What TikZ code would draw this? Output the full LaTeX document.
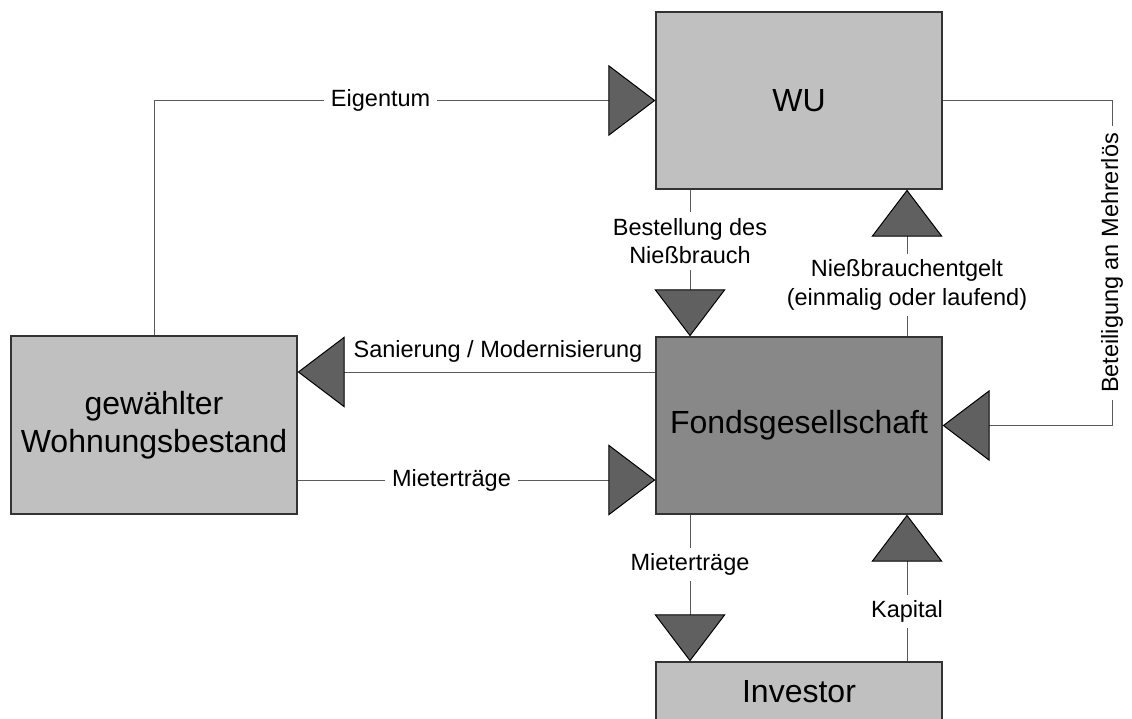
\documentclass[tikz,border=0pt]{standalone}
\usepackage{fontspec}
\setmainfont{Liberation Sans}
\usetikzlibrary{arrows.meta}
\definecolor{boxlight}{HTML}{C0C0C0}
\definecolor{boxdark}{HTML}{888888}
\definecolor{tri}{HTML}{606060}
\definecolor{ln}{HTML}{5A5A5A}
\begin{document}
\begin{tikzpicture}[x=1pt,y=-1pt,
  box/.style={draw=black!80, line width=1.2pt, minimum width=286pt, inner sep=0pt,
    align=center, font=\fontsize{32}{38}\selectfont},
  flow/.style={draw=ln, line width=1pt,
    -{Triangle[length=47pt,width=71pt,fill=tri,color=black]}},
  lbl/.style={fill=white, inner xsep=7pt, inner ysep=6pt, align=center,
    font=\fontsize{23.5}{28.5}\selectfont, text=black}]
\useasboundingbox (0,0) rectangle (1132,718);
\clip (0,0) rectangle (1132,718);
% boxes
\node[box, fill=boxlight, minimum height=177pt] (WU) at (799,100.5) {WU};
\node[box, fill=boxdark, minimum height=177pt] (F) at (799,425.5) {Fondsgesellschaft};
\node[box, fill=boxlight, minimum height=178pt] (L) at (154,425) {gewählter\\Wohnungsbestand};
\node[box, fill=boxlight, minimum height=60pt] (I) at (799,692) {Investor};
% helper coordinates
\coordinate (san) at (0,372);
\coordinate (mie) at (0,480);
\coordinate (bx) at (1112,0);
% connectors
\draw[flow] (L.north) |- node[lbl,pos=0.726]{Eigentum} (WU.west);
\draw[flow] ([xshift=-109pt]WU.south) -- node[lbl,pos=.35]{Bestellung des\\Nießbrauch} ([xshift=-109pt]F.north);
\draw[flow] ([xshift=108pt]F.north) -- node[lbl,pos=.35]{Nießbrauchentgelt\\(einmalig oder laufend)} ([xshift=108pt]WU.south);
\draw[flow] (WU.east) -- (WU.east -| bx) -- node[lbl,rotate=90,pos=.5]{Beteiligung an Mehrerlös} (F.east -| bx) -- (F.east);
\draw[flow] (F.west |- san) -- node[lbl,pos=.44,above=3pt,inner ysep=6pt]{Sanierung / Modernisierung} (L.east |- san);
\draw[flow] (L.east |- mie) -- node[lbl,pos=.43]{Mieterträge} (F.west |- mie);
\draw[flow] ([xshift=-109pt]F.south) -- node[lbl,pos=.34]{Mieterträge} ([xshift=-109pt]I.north);
\draw[flow] ([xshift=108pt]I.north) -- node[lbl,pos=.34]{Kapital} ([xshift=108pt]F.south);
\end{tikzpicture}
\end{document}
